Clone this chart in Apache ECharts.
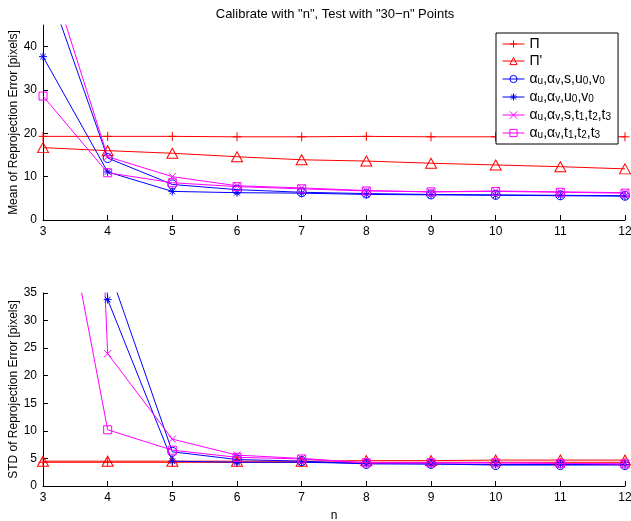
<!DOCTYPE html>
<html>
<head>
<meta charset="utf-8">
<script src="https://cdn.jsdelivr.net/npm/echarts@6/dist/echarts.min.js"></script>
<style>html,body{margin:0;padding:0;background:#fff}#c{width:631px;height:521px}</style>
</head>
<body>
<div id="c"></div>
<script>
// ---- data ----
var nValues = [3, 4, 5, 6, 7, 8, 9, 10, 11, 12];
var seriesNames = ["Π", "Π'", "α_u,α_v,s,u_0,v_0", "α_u,α_v,u_0,v_0", "α_u,α_v,s,t_1,t_2,t_3", "α_u,α_v,t_1,t_2,t_3"];
var meanPi      = [19.3, 19.3, 19.3, 19.2, 19.2, 19.3, 19.2, 19.2, 19.2, 19.2];
var meanPiP     = [16.7, 16.0, 15.4, 14.6, 13.9, 13.6, 13.1, 12.7, 12.3, 11.8];
var meanCircle  = [57, 14.3, 8.2, 7.0, 6.4, 6.1, 5.9, 5.8, 5.7, 5.6];
var meanStar    = [37.7, 11.1, 6.6, 6.3, 6.2, 5.9, 5.8, 5.7, 5.6, 5.5];
var meanCross   = [61.7, 14.6, 10.0, 7.9, 7.4, 6.8, 6.5, 6.7, 6.5, 6.3];
var meanSquare  = [28.6, 10.9, 8.6, 7.7, 7.2, 6.7, 6.5, 6.6, 6.4, 6.2];
var stdPi       = [4.3, 4.3, 4.3, 4.3, 4.3, 4.3, 4.3, 4.3, 4.3, 4.3];
var stdPiP      = [4.5, 4.5, 4.5, 4.5, 4.5, 4.6, 4.6, 4.7, 4.7, 4.7];
var stdCircle   = [150, 40, 6.2, 4.8, 4.5, 4.0, 4.0, 3.8, 3.8, 3.8];
var stdStar     = [250, 33.8, 4.5, 4.3, 4.3, 4.1, 4.0, 3.9, 3.9, 3.9];
var stdCross    = [300, 24.0, 8.5, 5.6, 5.0, 4.2, 4.2, 4.2, 4.1, 4.0];
var stdSquare   = [72, 10.2, 6.5, 5.2, 4.9, 4.2, 4.2, 4.2, 4.1, 4.0];
var titleText = 'Calibrate with "n", Test with "30\u2212n" Points';
var topYName = 'Mean of Reprojection Error [pixels]';
var bottomYName = 'STD of Reprojection Error [pixels]';
var xName = 'n';

// ---- styling ----
var RED = '#ff0000', BLUE = '#0000ff', MAG = '#ff00ff';
var FONT = 'Liberation Sans, Arial, Helvetica, sans-serif';
var symPlus = 'path://M5,0L5,10M0,5L10,5';
var symStar = 'path://M5,0L5,10M0,5L10,5M1.5,1.5L8.5,8.5M1.5,8.5L8.5,1.5';
var symCross = 'path://M0,0L10,10M0,10L10,0';
var symTri = 'path://M5,0L10,9L0,9Z';
var symCircle = 'path://M10,5A5,5,0,1,1,0,5A5,5,0,1,1,10,5Z';
var symRect = 'path://M0,0L10,0L10,10L0,10Z';
var styles = [
  {color: RED, symbol: symPlus, size: 9},
  {color: RED, symbol: symTri, size: [11, 10]},
  {color: BLUE, symbol: symCircle, size: 9},
  {color: BLUE, symbol: symStar, size: 8},
  {color: MAG, symbol: symCross, size: 7},
  {color: MAG, symbol: symRect, size: 8}
];
var topData = [meanPi, meanPiP, meanCircle, meanStar, meanCross, meanSquare];
var botData = [stdPi, stdPiP, stdCircle, stdStar, stdCross, stdSquare];

function pairs(arr) { return nValues.map(function (n, i) { return [n, arr[i]]; }); }

function makeSeries(idx, grid) {
  var st = styles[idx];
  var data = grid === 0 ? topData[idx] : botData[idx];
  return {
    name: seriesNames[idx],
    type: 'line',
    xAxisIndex: grid, yAxisIndex: grid,
    data: pairs(data),
    symbol: st.symbol,
    symbolSize: st.size,
    showAllSymbol: true,
    clip: true,
    lineStyle: {color: st.color, width: 1},
    itemStyle: {color: 'rgba(0,0,0,0)', borderColor: st.color, borderWidth: 1},
    emphasis: {disabled: true},
    animation: false
  };
}

function richName(name) {
  var out = '';
  name.split(/(_\w)/).forEach(function (p) {
    if (!p) return;
    if (p.charAt(0) === '_') out += '{s|' + p.charAt(1) + '}';
    else out += '{a|' + p + '}';
  });
  return out;
}

function xAxis(grid, showName) {
  return {
    type: 'value', gridIndex: grid, min: 3, max: 12, interval: 1,
    name: showName ? xName : '', nameLocation: 'middle', nameGap: 24,
    nameTextStyle: {color: '#000', fontSize: 12, fontFamily: FONT},
    axisLine: {show: true, lineStyle: {color: '#000', width: 1}},
    axisTick: {show: true, inside: true, length: 5, lineStyle: {color: '#000'}},
    axisLabel: {color: '#000', fontSize: 12, fontFamily: FONT, margin: 6},
    splitLine: {show: false}
  };
}
function yAxis(grid, max, interval, name) {
  return {
    type: 'value', gridIndex: grid, min: 0, max: max, interval: interval,
    name: name, nameLocation: 'middle', nameGap: 23, nameMoveOverlap: false,
    nameTextStyle: {color: '#000', fontSize: 12, fontFamily: FONT},
    axisLine: {show: true, onZero: false, lineStyle: {color: '#000', width: 1}},
    axisTick: {show: true, inside: true, length: 5, lineStyle: {color: '#000'}},
    axisLabel: {color: '#000', fontSize: 12, fontFamily: FONT, margin: 6, showMaxLabel: max % interval === 0},
    splitLine: {show: false}
  };
}

var series = [];
for (var i = 0; i < 6; i++) series.push(makeSeries(i, 0));
for (var j = 0; j < 6; j++) series.push(makeSeries(j, 1));

var chart = echarts.init(document.getElementById('c'), null, {renderer: 'canvas'});
chart.setOption({
  animation: false,
  backgroundColor: '#fff',
  title: {
    text: titleText, left: 330, top: 3, textAlign: 'center',
    textStyle: {fontSize: 13, fontWeight: 'normal', color: '#000', fontFamily: FONT}
  },
  grid: [
    {left: 43, right: 6, top: 25, height: 195, containLabel: false, outerBoundsMode: 'none'},
    {left: 43, right: 6, top: 293, height: 193, containLabel: false, outerBoundsMode: 'none'}
  ],
  xAxis: [xAxis(0, false), xAxis(1, true)],
  yAxis: [yAxis(0, 45, 10, topYName), yAxis(1, 35, 5, bottomYName)],
  legend: {
    orient: 'vertical', left: 496, top: 33,
    data: seriesNames,
    backgroundColor: '#fff', borderColor: '#000', borderWidth: 1,
    padding: [4, 7, 4, 6],
    itemWidth: 22, itemHeight: 9, itemGap: 3,
    selectedMode: false,
    itemStyle: {borderWidth: 1},
    lineStyle: {width: 1},
    formatter: function (name) { return richName(name); },
    textStyle: {
      color: '#000', fontFamily: FONT, fontSize: 14, lineHeight: 14,
      rich: {
        a: {fontSize: 14, fontFamily: FONT, color: '#000', lineHeight: 14, verticalAlign: 'bottom'},
        s: {fontSize: 10, fontFamily: FONT, color: '#000', lineHeight: 14, verticalAlign: 'bottom', padding: [5, 0, 0, 0]}
      }
    }
  },
  series: series
});
</script>
</body>
</html>
